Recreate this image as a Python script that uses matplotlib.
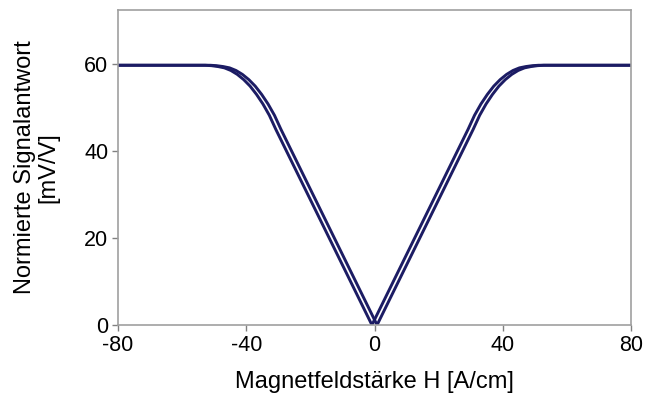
import matplotlib
matplotlib.use("Agg")
import matplotlib.pyplot as plt

plt.rcParams['font.family'] = ['Liberation Sans', 'DejaVu Sans']

# Curve A (minimum slightly at negative H)
h_a = [-80, -52.8, -50.8, -48.8, -46.8, -44.8, -42.8, -40.8, -38.8, -36.8, -34.8, -32.8, -30.8, -20.8, -10.8, -0.8,
       9.2, 19.2, 29.2, 31.2, 33.2, 35.2, 37.2, 39.2, 41.2, 43.2, 45.2, 47.2, 49.2, 51.2, 80]
v_a = [59.7, 59.7, 59.6, 59.4, 59.1, 58.5, 57.6, 56.4, 54.9, 53.0, 50.8, 48.2, 45.0, 30.0, 15.0, 0.0,
       15.0, 30.0, 45.0, 48.2, 50.8, 53.0, 54.9, 56.4, 57.6, 58.5, 59.1, 59.4, 59.6, 59.7, 59.7]
# Curve B (minimum slightly at positive H)
h_b = [-80, -51.2, -49.2, -47.2, -45.2, -43.2, -41.2, -39.2, -37.2, -35.2, -33.2, -31.2, -29.2, -19.2, -9.2, 0.8,
       10.8, 20.8, 30.8, 32.8, 34.8, 36.8, 38.8, 40.8, 42.8, 44.8, 46.8, 48.8, 50.8, 52.8, 80]
v_b = [59.7, 59.7, 59.6, 59.4, 59.1, 58.5, 57.6, 56.4, 54.9, 53.0, 50.8, 48.2, 45.0, 30.0, 15.0, 0.0,
       15.0, 30.0, 45.0, 48.2, 50.8, 53.0, 54.9, 56.4, 57.6, 58.5, 59.1, 59.4, 59.6, 59.7, 59.7]

x_ticks = [-80, -40, 0, 40, 80]
y_ticks = [0, 20, 40, 60]

fig = plt.figure(figsize=(6.48, 4.01), dpi=100)
ax = fig.add_axes([118/648, 1-325/401, (631-118)/648, (325-10)/401])
color = '#1c1c64'
ax.plot(h_a, v_a, color=color, lw=2.1, solid_joinstyle='round')
ax.plot(h_b, v_b, color=color, lw=2.1, solid_joinstyle='round')
ax.set_xlim(-80, 80)
ax.set_ylim(0, 72.4)
ax.set_xticks(x_ticks)
ax.set_yticks(y_ticks)
ax.set_xticklabels([str(t) for t in x_ticks])
ax.tick_params(labelsize=15.5, color='#808080', length=4, width=1, direction='out', pad=3)
for s in ax.spines.values():
    s.set_color('#a0a0a0')
    s.set_linewidth(1.2)
ax.set_xlabel('Magnetfeldstärke H [A/cm]', fontsize=17, labelpad=11)
ax.set_ylabel('Normierte Signalantwort\n[mV/V]', fontsize=17, labelpad=18, linespacing=1.05)
fig.savefig('out.png', dpi=100)
